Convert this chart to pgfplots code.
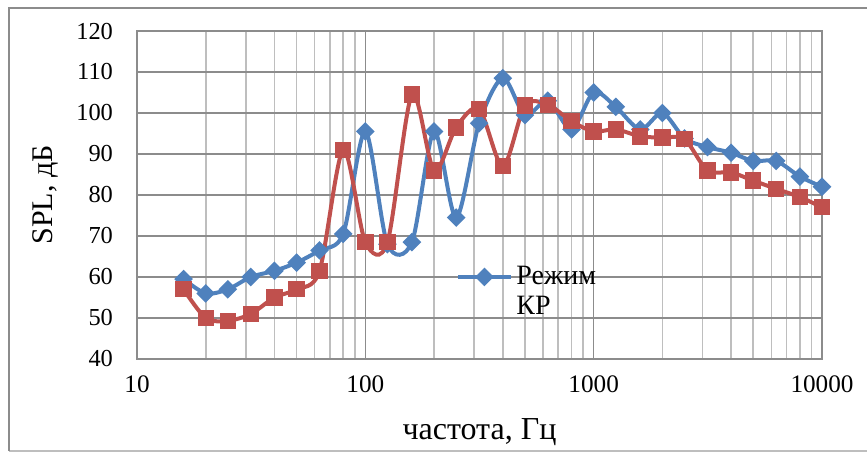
\documentclass[border=0pt]{standalone}
\usepackage{pgfplots}
\pgfplotsset{compat=1.18}
\usepackage{fontspec}
\setmainfont{Liberation Serif}
\definecolor{exblue}{HTML}{4F81BD}
\definecolor{exred}{HTML}{C0504D}
\definecolor{majgrid}{HTML}{8C8C8C}
\definecolor{mingrid}{HTML}{BEBEBE}
\begin{document}
\begin{tikzpicture}
\begin{axis}[
  name=ax,
  scale only axis,
  width=342.5pt, height=164pt,
  xmode=log,
  xmin=10, xmax=10000,
  ymin=40, ymax=120,
  ytick={40,50,...,120},
  xtick={10,100,1000,10000},
  xticklabels={10,100,1000,10000},
  log basis x=10,
  minor xtick={20,30,40,50,60,70,80,90,200,300,400,500,600,700,800,900,2000,3000,4000,5000,6000,7000,8000,9000},
  xmajorgrids, xminorgrids, ymajorgrids,
  major grid style={majgrid, line width=0.8pt},
  minor grid style={mingrid, line width=0.8pt},
  major tick length=0pt, minor tick length=0pt,
  axis line style={majgrid, line width=0.8pt},
  /pgf/number format/assume math mode=true,
  xticklabel style={font=\fontsize{12.6}{14}\selectfont, yshift=-5pt},
  yticklabel style={font=\fontsize{12.2}{14}\selectfont, xshift=-8.5pt},
  xlabel={частота, Гц},
  ylabel={SPL, дБ},
  xlabel style={font=\fontsize{16}{18}\selectfont, at={(axis description cs:0.5,-0.2226)}, anchor=center},
  ylabel style={font=\fontsize{15}{17}\selectfont, at={(axis description cs:-0.134,0.5)}, anchor=center},
  legend style={draw=none, fill=none, font=\fontsize{14}{15}\selectfont, at={(axis description cs:0.4657,0.25)}, anchor=west, inner sep=0pt},
  legend image code/.code={\draw[mark repeat=2,mark phase=2] plot coordinates {(0pt,0pt) (13pt,0pt) (26pt,0pt)};},
  clip=false,
]
\addplot[exblue, line width=2pt, smooth, tension=0.5, mark=square*, mark size=2.3pt, mark options={rotate=45, solid, fill=exblue}] coordinates {
(16,59.5) (20,56) (25,57) (31.5,60) (40,61.5) (50,63.5) (63,66.5) (80,70.5)
(100,95.5) (125,68) (160,68.5) (200,95.5) (250,74.5) (315,97.5) (400,108.5)
(500,99.5) (630,103) (800,96) (1000,105) (1250,101.5) (1600,96) (2000,100)
(2500,93.8) (3150,91.7) (4000,90.3) (5000,88.3) (6300,88.3) (8000,84.5) (10000,82)
};
\addlegendentry{\rlap{\smash{\raisebox{-15pt}{КР}}}Режим}
\addplot[exred, line width=2pt, smooth, tension=0.5, mark=square*, mark size=3.1pt, mark options={solid, fill=exred}, forget plot] coordinates {
(16,57) (20,50) (25,49.3) (31.5,51) (40,55) (50,57) (63,61.5) (80,91)
(100,68.5) (125,68.5) (160,104.5) (200,86) (250,96.5) (315,101) (400,87)
(500,101.8) (630,102) (800,98) (1000,95.5) (1250,96) (1600,94.3) (2000,94)
(2500,93.6) (3150,86) (4000,85.5) (5000,83.5) (6300,81.5) (8000,79.5) (10000,77)
};
\end{axis}
\path[use as bounding box] ([shift={(-68.5pt,-46.5pt)}]ax.south west) rectangle ([shift={(22.5pt,15.5pt)}]ax.north east);
\draw[mingrid, line width=0.8pt] ([shift={(-64pt,-46pt)}]ax.south west) -- ([shift={(22.5pt,-46pt)}]ax.south east);
\draw[majgrid, line width=1pt] ([shift={(-64pt,-46pt)}]ax.south west) -- ([shift={(-64pt,11.5pt)}]ax.north west) -- ([shift={(22.5pt,11.5pt)}]ax.north east);
\end{tikzpicture}
\end{document}
